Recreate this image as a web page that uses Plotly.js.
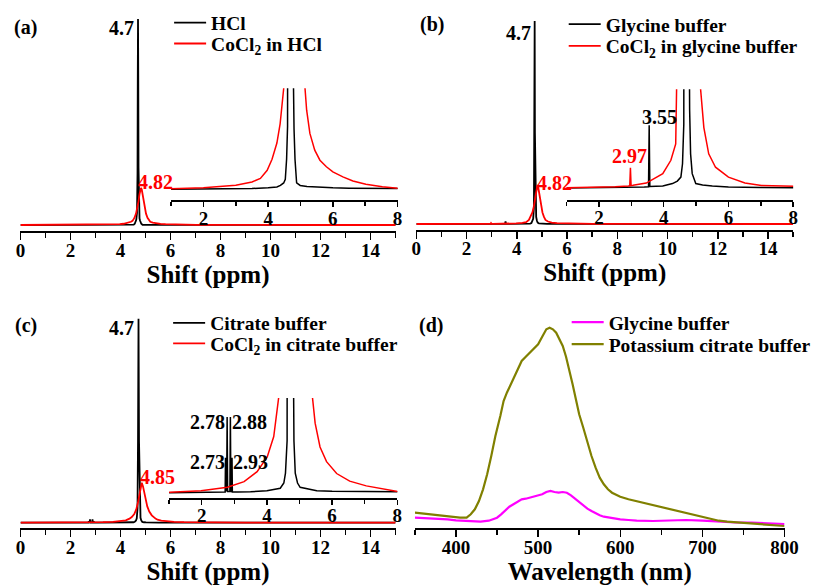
<!DOCTYPE html>
<html><head><meta charset="utf-8">
<script src="https://cdn.plot.ly/plotly-3.0.1.min.js"></script>
<style>html,body{margin:0;padding:0;background:#fff}#chart{width:816px;height:586px}</style>
</head><body><div id="chart"></div>
<script>
// ---------- DATA ----------
// (a) 1H NMR, HCl
const hclX = [0,1,2,3,3.5,4.0,4.27,4.38,4.48,4.53,4.57,4.6,4.63,4.66,4.68,4.69,4.70,4.71,4.72,4.74,4.76,4.78,4.80,4.83,4.88,4.99,5.2,5.5,6.0,6.5,7,8,10,12,15];
const hclY = [0,0.005,0.01,0.015,0.02,0.035,0.05,0.08,0.13,0.2,0.6,1.25,2.5,6,25,70,100,72,28,7,3.2,2.2,1.2,0.6,0.13,0.08,0.06,0.046,0.033,0.025,0.015,0.01,0,0,0];
const coHclX = [0,1,2,3,3.5,3.76,3.97,4.12,4.27,4.37,4.42,4.48,4.55,4.62,4.68,4.72,4.76,4.79,4.82,4.85,4.88,4.92,4.96,5.02,5.08,5.14,5.19,5.29,5.44,5.6,5.8,6.0,6.31,6.62,7.02,7.53,8.0,10,12,15];
const coHclY = [0,0.01,0.033,0.086,0.15,0.22,0.38,0.6,0.92,1.3,1.57,2.0,3.3,5.5,8.5,11.5,15,17.2,18,17.2,15,11.5,8.5,5.5,3.5,2.0,1.57,1.11,0.78,0.58,0.45,0.35,0.25,0.17,0.105,0.053,0.026,0.005,0,0];
// (b) glycine buffer
const glyX = [0,1,2,3,3.4,3.53,3.55,3.57,3.7,3.97,4.27,4.42,4.53,4.58,4.62,4.65,4.68,4.70,4.71,4.72,4.74,4.77,4.80,4.83,4.88,4.99,5.2,5.5,6.0,7,8,10,12,15];
const glyY = [0,0.005,0.01,0.02,0.03,0.035,1.28,0.04,0.04,0.05,0.1,0.15,0.23,0.5,1.3,2.6,8,40,100,45,10,3.5,1.6,0.7,0.3,0.1,0.07,0.05,0.03,0.02,0.01,0,0,0];
const coGlyX = [0,1,1.93,2.5,2.9,2.95,2.97,2.99,3.05,3.46,3.97,4.22,4.37,4.48,4.55,4.62,4.68,4.72,4.76,4.79,4.82,4.85,4.88,4.92,4.96,5.02,5.08,5.14,5.24,5.39,5.6,6.0,6.51,7.02,8.0,10,12,15];
const coGlyY = [0,0.01,0.02,0.035,0.05,0.055,0.42,0.06,0.065,0.11,0.3,0.57,0.9,2.0,3.5,5.7,8.8,12,15.5,18,19.2,18.2,15.8,12,8.8,5.7,3.5,2.0,1.23,0.7,0.43,0.23,0.11,0.06,0.03,0.005,0,0];
// (c) citrate buffer
const citX = [0,1,2,2.6,2.72,2.73,2.745,2.765,2.78,2.795,2.865,2.88,2.895,2.915,2.93,2.94,3.1,3.5,4.0,4.41,4.52,4.57,4.62,4.65,4.68,4.70,4.72,4.74,4.77,4.80,4.83,4.87,4.94,5.02,5.53,6.0,7,8,10,12,15];
const citY = [0,0.01,0.015,0.02,0.02,0.74,0.03,0.03,1.6,0.03,0.03,1.6,0.03,0.03,0.74,0.02,0.02,0.025,0.05,0.1,0.21,0.42,1.1,2.2,7,40,100,40,7,2.4,1.1,0.42,0.21,0.12,0.05,0.035,0.02,0.015,0,0,0];
const coCitX = [0,1.02,1.98,2.79,3.3,3.7,4.01,4.21,4.36,4.45,4.55,4.63,4.7,4.75,4.8,4.85,4.9,4.95,5.0,5.07,5.15,5.25,5.4,5.48,5.63,5.83,6.14,6.54,7.05,7.56,8.01,9,10,12,15];
const coCitY = [0,0.015,0.05,0.12,0.24,0.45,0.76,1.19,2.0,2.8,4.2,6.5,10,13.5,17.5,19.6,17.8,14.5,11.5,8,5.5,3.6,2.0,1.47,0.97,0.66,0.41,0.25,0.15,0.08,0.03,0.01,0,0,0];
// (d) fluorescence
const flGlyWl = [350,360,370,380,390,400,410,420,430,440,450,455,460,465,470,475,480,485,490,495,500,505,510,515,520,525,530,535,540,545,550,555,560,565,570,575,580,590,600,610,620,640,660,680,700,720,740,760,780,800];
const flGlyI  = [93,90,87,83,77,67,60,53,53,63,93,127,167,203,227,250,277,283,293,300,310,327,350,360,350,343,350,343,317,283,243,210,183,160,137,117,103,87,77,70,63,60,63,70,63,53,47,43,40,30];
const flCitWl = [350,360,370,380,390,397,405,413,418,423,428,433,438,443,448,454,458,462,466,470,475,480,485,490,495,500,505,510,514,518,522,526,530,534,538,542,546,550,555,560,565,570,575,580,585,590,600,610,620,630,640,650,660,670,680,690,700,710,720,730,740,750,760,770,780,790,800];
const flCitI  = [143,133,127,117,110,103,93,93,127,177,260,377,527,710,910,1110,1260,1343,1417,1477,1577,1660,1703,1743,1777,1827,1903,1977,1993,1977,1943,1883,1810,1703,1577,1427,1277,1127,993,843,710,593,493,427,377,343,303,277,257,237,220,197,177,157,137,117,97,77,63,53,47,40,37,30,23,17,10];

const legNames = ['HCl','CoCl<sub>2</sub> in HCl','Glycine buffer','CoCl<sub>2</sub> in glycine buffer','Citrate buffer','CoCl<sub>2</sub> in citrate buffer','Glycine buffer','Potassium citrate buffer'];
const xTitleShift = 'Shift (ppm)';
const xTitleWl = 'Wavelength (nm)';

// ---------- LAYOUT HELPERS ----------
const W = 816, H = 586, F = 'Liberation Serif, Times New Roman, serif';
const px = v => v / W, py = v => 1 - v / H;
const RED = '#ff0000', BLK = '#000000', MAG = '#ff00ff', OLV = '#808000';
function yrange(bot, top, base, ppu){ return [-(bot-base)/ppu, (base-top)/ppu]; }
function xax(l, r, range, dtick, minor, anchor, big, title){
  const a = {domain:[px(l),px(r)], range:range, anchor:anchor, showline:true, linewidth:2, linecolor:'#000',
    ticks:'outside', ticklen:big?7:5, tickwidth:1.5, tickcolor:'#000', dtick:dtick, tick0:0,
    minor:{dtick:minor, ticks:'outside', ticklen:big?5:4, tickwidth:1.5, tickcolor:'#000', showgrid:false},
    showgrid:false, zeroline:false, fixedrange:true,
    tickprefix:'<b>', ticksuffix:'</b>',
    tickfont:{family:F, size:19, color:'#000', weight:700}, ticklabelstandoff: big?-6:-5};
  if (title) a.title = {text:'<b>'+title+'</b>', font:{family:F, size:25, color:'#000', weight:700}, standoff:0};
  return a;
}
function yax(bot, top, rng, anchor){
  return {domain:[py(bot), py(top)], range:rng, anchor:anchor, visible:false, fixedrange:true};
}
function tr(x, y, xa, ya, color, w, name, leg){
  const t = {x:x, y:y, xaxis:xa, yaxis:ya, type:'scatter', mode:'lines', line:{color:color, width:w}, hoverinfo:'skip'};
  if (name){ t.name = name; t.legend = leg; t.showlegend = true; } else t.showlegend = false;
  return t;
}

const traces = [
  tr(hclX, hclY, 'x', 'y', BLK, 1.8, legNames[0], 'legend'),
  tr(coHclX, coHclY, 'x', 'y', RED, 1.8, legNames[1], 'legend2'),
  tr(hclX, hclY, 'x2', 'y2', BLK, 1.5),
  tr(coHclX, coHclY, 'x2', 'y2', RED, 1.5),
  tr(glyX, glyY, 'x3', 'y3', BLK, 1.8, legNames[2], 'legend3'),
  tr(coGlyX, coGlyY, 'x3', 'y3', RED, 1.8, legNames[3], 'legend4'),
  tr(glyX, glyY, 'x4', 'y4', BLK, 1.5),
  tr(coGlyX, coGlyY, 'x4', 'y4', RED, 1.5),
  tr(citX, citY, 'x5', 'y5', BLK, 1.8, legNames[4], 'legend5'),
  tr(coCitX, coCitY, 'x5', 'y5', RED, 1.8, legNames[5], 'legend6'),
  tr(citX, citY, 'x6', 'y6', BLK, 1.5),
  tr(coCitX, coCitY, 'x6', 'y6', RED, 1.5),
  tr(flGlyWl, flGlyI, 'x7', 'y7', MAG, 2.2, legNames[6], 'legend7'),
  tr(flCitWl, flCitI, 'x7', 'y7', OLV, 2.2, legNames[7], 'legend8')
];

function leg(lpx, rowCenter){
  return {x:px(lpx), y:py(rowCenter-19), xanchor:'left', yanchor:'top', bgcolor:'rgba(0,0,0,0)', borderwidth:0,
    itemwidth:32, font:{family:F, size:19.5, color:'#000', weight:700}, itemclick:false, itemdoubleclick:false};
}
function ann(text, cx, cy, color, anchor){
  return {xref:'paper', yref:'paper', x:px(cx), y:py(cy), text:text, showarrow:false,
    xanchor:anchor||'center', yanchor:'middle', font:{family:F, size:20, color:color||'#000', weight:700}};
}

const layout = {
  width:W, height:H, margin:{l:0,r:0,t:0,b:0}, paper_bgcolor:'#fff', plot_bgcolor:'rgba(0,0,0,0)',
  showlegend:true, font:{family:F, color:'#000', weight:700},
  xaxis: xax(20.7, 400, [0,15], 2, 1, 'y', true, xTitleShift),
  yaxis: yax(231, 12, yrange(231, 12, 225, 2.06), 'x'),
  xaxis2: xax(173, 402, [1,8], 2, 1, 'y2', false),
  yaxis2: yax(200, 88.3, yrange(200, 88.3, 189.5, 50.5), 'x2'),
  xaxis3: xax(421, 802, [0,15], 2, 1, 'y3', true, xTitleShift),
  yaxis3: yax(229.5, 12, yrange(229.5, 12, 224, 2.03), 'x3'),
  xaxis4: xax(573, 802, [1,8], 2, 1, 'y4', false),
  yaxis4: yax(199.5, 89.3, yrange(199.5, 89.3, 188.5, 49.5), 'x4'),
  xaxis5: xax(20.7, 400, [0,15], 2, 1, 'y5', true, xTitleShift),
  yaxis5: yax(528, 310, yrange(528, 310, 522.7, 2.04), 'x5'),
  xaxis6: xax(171, 401.7, [1,8], 2, 1, 'y6', false),
  yaxis6: yax(497.5, 398, yrange(497.5, 398, 493, 47.5), 'x6'),
  xaxis7: xax(419.5, 793.3, [350,800], 100, 50, 'y7', true, xTitleWl),
  yaxis7: yax(527.7, 310, yrange(527.7, 310, 527, 0.1), 'x7'),
  legend: leg(171, 22.5), legend2: leg(171, 43.3),
  legend3: leg(570, 24), legend4: leg(570, 45.7),
  legend5: leg(170, 322.7), legend6: leg(170, 343.3),
  legend7: leg(573, 322), legend8: leg(573, 344),
  annotations: [
    ann('<b>(a)</b>', 26, 27), ann('<b>(b)</b>', 437, 25), ann('<b>(c)</b>', 26, 326), ann('<b>(d)</b>', 436, 326),
    ann('<b>4.7</b>', 123, 28), ann('<b>4.82</b>', 157, 182, RED),
    ann('<b>4.7</b>', 524, 33), ann('<b>4.82</b>', 561, 183, RED), ann('<b>3.55</b>', 667, 117), ann('<b>2.97</b>', 637, 156, RED),
    ann('<b>4.7</b>', 123, 328), ann('<b>4.85</b>', 159, 477, RED),
    ann('<b>2.78</b>', 210, 422), ann('<b>2.88</b>', 252, 422), ann('<b>2.73</b>', 210, 462), ann('<b>2.93</b>', 253, 462)
  ]
};

Plotly.newPlot('chart', traces, layout, {displayModeBar:false, staticPlot:true});
</script></body></html>
